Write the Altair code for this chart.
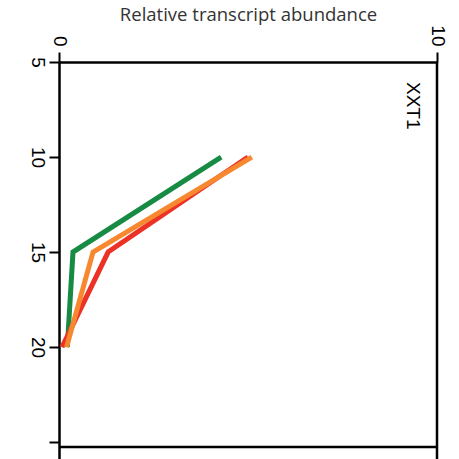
import altair as alt
import pandas as pd

# Sampling points and relative abundance for each series
days = [10, 15, 20]
green_vals = [4.29, 0.37, 0.22]
red_vals = [5.0, 1.3, 0.08]
orange_vals = [5.1, 0.9, 0.2]

series_names = ["green", "red", "orange"]
series_colors = ["#178a44", "#ec3127", "#f7882f"]

rows = []
for name, vals in zip(series_names, [green_vals, red_vals, orange_vals]):
    for d, v in zip(days, vals):
        rows.append({"series": name, "day": d, "abundance": v})
df = pd.DataFrame(rows)

x_scale = alt.Scale(domain=[0, 10], nice=False)
y_scale = alt.Scale(domain=[5, 25.89], nice=False, reverse=True, zero=False)

FONT = "Liberation Sans"

lines = alt.Chart(df).mark_line(strokeWidth=5, strokeCap="butt", strokeJoin="miter").encode(
    x=alt.X(
        "abundance:Q",
        scale=x_scale,
        axis=alt.Axis(
            orient="top",
            values=[0, 10],
            title="Relative transcript abundance",
            titleFont="Open Sans",
            titleFontSize=18.5,
            titleFontWeight="normal",
            titleColor="#333333",
            titleX=189,
            titleY=-42,
            titleBaseline="alphabetic",
            titleAnchor="middle",
            labelAngle=90,
            labelAlign="right",
            labelBaseline="middle",
            labelFont=FONT,
            labelFontSize=19,
            labelColor="black",
            labelPadding=6,
            tickSize=10,
            tickWidth=2,
            tickColor="black",
            domainColor="black",
            domainWidth=2.5,
            grid=False,
        ),
    ),
    y=alt.Y(
        "day:Q",
        scale=y_scale,
        axis=alt.Axis(
            orient="left",
            values=[5, 10, 15, 20, 25],
            labelExpr="datum.value == 25 ? '' : datum.label",
            title=None,
            labelAngle=90,
            labelAlign="center",
            labelBaseline="top",
            labelFont=FONT,
            labelFontSize=19,
            labelColor="black",
            labelPadding=3,
            tickSize=10,
            tickWidth=2,
            tickColor="black",
            domainColor="black",
            domainWidth=2.5,
            grid=False,
        ),
    ),
    color=alt.Color(
        "series:N",
        scale=alt.Scale(domain=series_names, range=series_colors),
        legend=None,
    ),
    order=alt.Order("day:Q"),
    detail="series:N",
)

# Right and bottom frame lines
right_edge = alt.Chart().mark_rule(color="black", strokeWidth=2.5).encode(
    x=alt.datum(10, scale=x_scale)
)
bottom_edge = alt.Chart().mark_rule(color="black", strokeWidth=2.5).encode(
    y=alt.datum(25.26, scale=y_scale)
)

gene_label = alt.Chart().mark_text(
    text="XXT1", angle=90, align="left", baseline="middle",
    font=FONT, fontSize=19, color="black"
).encode(
    x=alt.datum(9.37, scale=x_scale),
    y=alt.datum(6.05, scale=y_scale),
)

chart = alt.layer(lines, right_edge, bottom_edge, gene_label).properties(
    width=378,
    height=397,
    padding={"left": 59, "top": 62, "right": 22, "bottom": 0},
    autosize=alt.AutoSizeParams(type="none"),
).configure_view(stroke=None)

chart.save("out.html", embed_options={"renderer": "svg", "actions": False})
